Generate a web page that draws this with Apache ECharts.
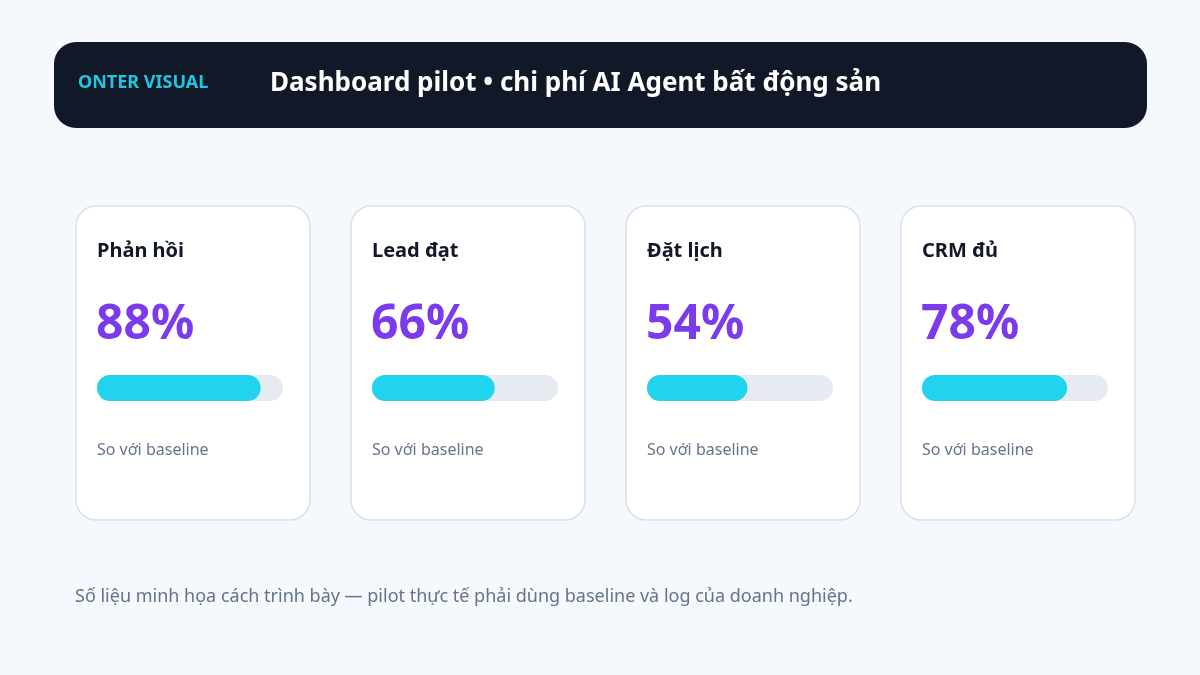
<!DOCTYPE html>
<html lang="vi">
<head>
    <meta charset="UTF-8">
    <title>Dashboard pilot</title>
    <script src="https://cdn.jsdelivr.net/npm/echarts@6/dist/echarts.min.js"></script>
    <style>
        html, body { margin: 0; padding: 0; background: #f5f8fc; }
    </style>
</head>
<body>
<div style="width: 1200px; height: 675px" id="main"></div>

<script type="text/javascript">
    // dữ liệu
    var brand = 'ONTER VISUAL';
    var title = 'Dashboard pilot • chi phí AI Agent bất động sản';
    var metrics = ['Phản hồi', 'Lead đạt', 'Đặt lịch', 'CRM đủ'];
    var values = [88, 66, 54, 78];
    var subLabel = 'So với baseline';
    var note = 'Số liệu minh họa cách trình bày — pilot thực tế phải dùng baseline và log của doanh nghiệp.';

    var FONT = '"Noto Sans", sans-serif';
    var cardX0 = 76, cardStep = 275, cardW = 234;

    var chart = echarts.init(document.getElementById('main'));

    var grids = [], xAxes = [], yAxes = [], series = [];
    var graphic = [
        {
            type: 'rect', z: 0,
            shape: { x: 54, y: 42, width: 1093, height: 86, r: 22 },
            style: { fill: '#111827' }
        },
        {
            type: 'text', z: 1,
            style: { text: brand, x: 78, y: 83, font: 'bold 18px ' + FONT, fill: '#22c6e0', textVerticalAlign: 'middle' }
        },
        {
            type: 'text', z: 1,
            style: { text: title, x: 270, y: 84, font: 'bold 26px ' + FONT, fill: '#ffffff', textVerticalAlign: 'middle' }
        },
        {
            type: 'text', z: 1,
            style: { text: note, x: 75, y: 597, font: '18px ' + FONT, fill: '#64748b', textVerticalAlign: 'middle' }
        }
    ];

    metrics.forEach(function (name, i) {
        var cx = cardX0 + i * cardStep;
        graphic.push({
            type: 'rect', z: 0,
            shape: { x: cx, y: 206, width: cardW, height: 314, r: 20 },
            style: { fill: '#ffffff', stroke: '#d9e1eb', lineWidth: 1.5 }
        });
        graphic.push({
            type: 'text', z: 1,
            style: { text: name, x: cx + 21, y: 251, font: 'bold 20px ' + FONT, fill: '#111827', textVerticalAlign: 'middle' }
        });
        graphic.push({
            type: 'text', z: 1,
            style: { text: values[i] + '%', x: cx + 20, y: 325, font: 'bold 48px ' + FONT, fill: '#7c3aed', textVerticalAlign: 'middle' }
        });
        graphic.push({
            type: 'text', z: 1,
            style: { text: subLabel, x: cx + 21, y: 450, font: '16px ' + FONT, fill: '#64748b', textVerticalAlign: 'middle' }
        });

        grids.push({ left: cx + 21, top: 375, width: 186, height: 26 });
        xAxes.push({ type: 'value', gridIndex: i, min: 0, max: 100, show: false });
        yAxes.push({ type: 'category', gridIndex: i, data: [name], show: false });
        series.push({
            type: 'bar',
            xAxisIndex: i,
            yAxisIndex: i,
            data: [values[i]],
            barWidth: 26,
            showBackground: true,
            backgroundStyle: { color: '#e6ebf2', borderRadius: 13 },
            itemStyle: { color: '#22d3ee', borderRadius: 13 },
            silent: true
        });
    });

    var option = {
        backgroundColor: '#f5f8fc',
        animation: false,
        graphic: graphic,
        grid: grids,
        xAxis: xAxes,
        yAxis: yAxes,
        series: series
    };

    chart.setOption(option);
</script>
</body>
</html>
